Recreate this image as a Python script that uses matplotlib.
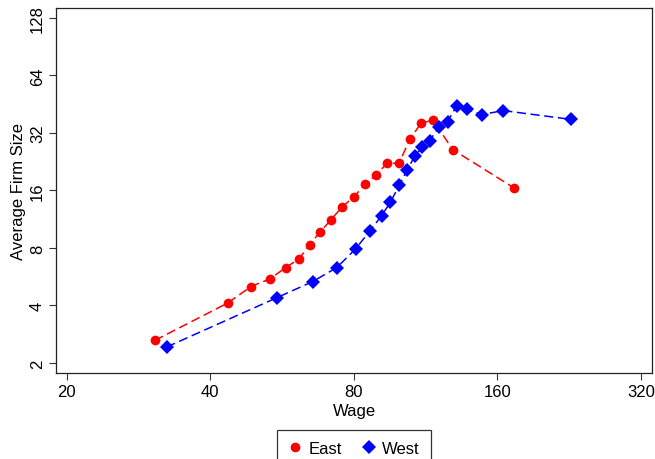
import matplotlib
matplotlib.use("Agg")
import matplotlib.pyplot as plt
from matplotlib.lines import Line2D
from matplotlib.ticker import FixedLocator, NullLocator

plt.rcParams['font.family'] = ['Liberation Sans', 'DejaVu Sans']

east_wage = [30.6, 43.5, 48.7, 53.4, 57.6, 61.4, 64.7, 68.0, 71.7, 75.6,
             80.0, 84.5, 89.0, 94.0, 99.5, 104.9, 110.8, 117.4, 128.9, 173.3]
east_size = [2.62, 4.11, 5.02, 5.51, 6.31, 7.01, 8.32, 9.70, 11.25, 13.1,
             14.8, 17.2, 19.3, 22.2, 22.2, 29.7, 36.1, 37.3, 26.2, 16.5]

west_wage = [32.4, 55.2, 65.6, 73.7, 80.7, 86.5, 91.5, 95.5, 99.6, 103.5,
             107.4, 111.3, 115.5, 120.6, 125.8, 131.6, 138.1, 148.3, 164.5, 227.8]
west_size = [2.42, 4.39, 5.33, 6.31, 7.91, 9.82, 11.8, 13.9, 17.0, 20.5,
             24.2, 26.9, 29.2, 34.3, 36.7, 44.5, 42.6, 39.9, 41.9, 37.7]

x_ticks = [20, 40, 80, 160, 320]
y_ticks = [2, 4, 8, 16, 32, 64, 128]

fig = plt.figure(figsize=(6.55, 4.6), dpi=100)
ax = fig.add_axes([0.0855, 0.187, 0.910, 0.7935])

ax.plot(east_wage, east_size, color='red', ls=(0, (6, 3)), lw=1.1,
        marker='o', markersize=7, markeredgewidth=0)
ax.plot(west_wage, west_size, color='blue', ls=(0, (6, 3)), lw=1.1,
        marker='D', markersize=6.8, markeredgewidth=0)

ax.set_xscale('log', base=2)
ax.set_yscale('log', base=2)
ax.set_xlim(19.0, 337.6)
ax.set_ylim(1.77, 144.4)

ax.xaxis.set_major_locator(FixedLocator(x_ticks))
ax.xaxis.set_minor_locator(NullLocator())
ax.set_xticklabels([str(v) for v in x_ticks])
ax.yaxis.set_major_locator(FixedLocator(y_ticks))
ax.yaxis.set_minor_locator(NullLocator())
ax.set_yticklabels([str(v) for v in y_ticks], rotation=90, va='center')

ax.tick_params(labelsize=12, length=5, width=0.8, color='#333333', pad=3)
for s in ax.spines.values():
    s.set_color('#222222')
    s.set_linewidth(0.9)

ax.set_xlabel('Wage', fontsize=12, labelpad=3)
ax.set_ylabel('Average Firm Size', fontsize=12, labelpad=3)

handles = [Line2D([], [], color='red', marker='o', ls='none', markersize=7, markeredgewidth=0),
           Line2D([], [], color='blue', marker='D', ls='none', markersize=6.8, markeredgewidth=0)]
leg = fig.legend(handles, ['East', 'West'], loc='upper center', bbox_to_anchor=(0.540, 0.0637),
                 ncol=2, fontsize=12, frameon=True, fancybox=False, edgecolor='black',
                 handletextpad=0.35, columnspacing=1.2, handlelength=0.9,
                 borderpad=0.65, borderaxespad=0)
leg.get_frame().set_linewidth(0.9)

fig.savefig('out.png', dpi=100)
